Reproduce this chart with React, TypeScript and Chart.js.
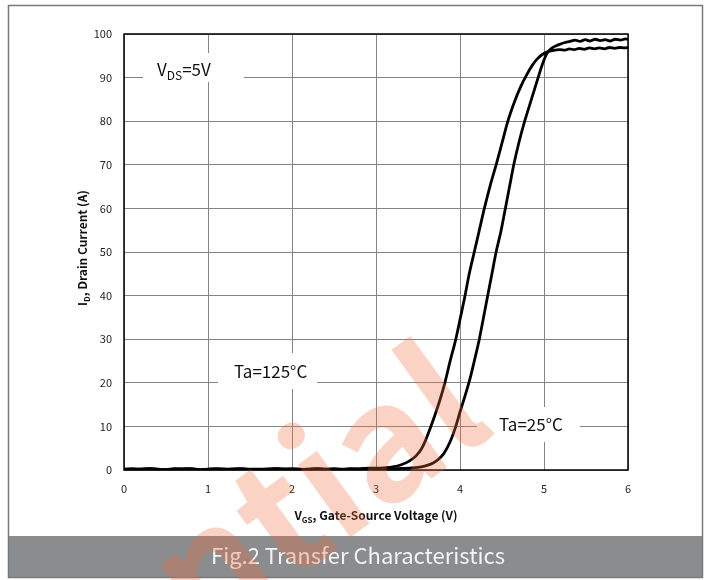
import React, { useEffect, useRef } from "react";
import { Chart, registerables } from "chart.js";

Chart.register(...registerables);

// ---------- data ----------
const xTicks = [0, 1, 2, 3, 4, 5, 6];
const yTicks = [0, 10, 20, 30, 40, 50, 60, 70, 80, 90, 100];

// Ta = 125°C (left curve)
const vgs125 = [
  0.0, 0.1, 0.2, 0.3, 0.4, 0.5, 0.6, 0.7, 0.8, 0.9, 1.0, 1.1, 1.2, 1.3, 1.4, 1.5, 1.6, 1.7, 1.8, 1.9,
  2.0, 2.1, 2.2, 2.3, 2.4, 2.5, 2.6, 2.7, 2.8, 2.9, 3.0, 3.1, 3.2, 3.3, 3.4, 3.48, 3.54, 3.59, 3.64,
  3.7, 3.76, 3.82, 3.88, 3.95, 4.0, 4.06, 4.11, 4.17, 4.23, 4.29, 4.36, 4.43, 4.5, 4.57, 4.65, 4.72,
  4.79, 4.86, 4.92, 4.98, 5.04, 5.1, 5.19, 5.25, 5.3, 5.36, 5.42, 5.48, 5.54, 5.6, 5.66, 5.72, 5.78,
  5.84, 5.9, 5.96, 6.0,
];
const id125 = [
  0.2, 0.3, 0.1, 0.3, 0.2, 0.1, 0.3, 0.2, 0.3, 0.1, 0.2, 0.3, 0.2, 0.1, 0.3, 0.2, 0.2, 0.1, 0.3, 0.2,
  0.3, 0.2, 0.1, 0.3, 0.2, 0.3, 0.2, 0.3, 0.2, 0.4, 0.4, 0.5, 0.7, 1.2, 2.1, 3.3, 4.8, 6.8, 9.3,
  12.5, 16.0, 20.0, 24.8, 30.0, 34.5, 40.0, 45.0, 50.0, 55.0, 60.0, 65.3, 70.0, 75.0, 80.0, 84.5, 87.8,
  90.5, 92.8, 94.3, 95.3, 95.9, 96.2, 96.4, 96.3, 96.6, 96.4, 96.7, 96.5, 96.8, 96.6, 96.8, 96.6, 96.9,
  96.7, 96.9, 96.8, 96.9,
];

// Ta = 25°C (right curve)
const vgs25 = [
  0.0, 0.15, 0.3, 0.45, 0.6, 0.75, 0.9, 1.05, 1.2, 1.35, 1.5, 1.65, 1.8, 1.95, 2.1, 2.25, 2.4, 2.55,
  2.7, 2.85, 3.0, 3.1, 3.2, 3.3, 3.4, 3.5, 3.6, 3.68, 3.74, 3.8, 3.85, 3.9, 3.95, 4.0, 4.06, 4.12,
  4.18, 4.23, 4.28, 4.33, 4.38, 4.43, 4.49, 4.54, 4.59, 4.64, 4.7, 4.77, 4.85, 4.93, 4.98, 5.03, 5.09,
  5.17, 5.24, 5.31, 5.37, 5.43, 5.49, 5.55, 5.61, 5.67, 5.73, 5.79, 5.85, 5.91, 5.97, 6.0,
];
const id25 = [
  0.1, 0.2, 0.3, 0.1, 0.2, 0.3, 0.1, 0.2, 0.2, 0.3, 0.1, 0.2, 0.3, 0.2, 0.1, 0.3, 0.2, 0.1, 0.2,
  0.3, 0.2, 0.2, 0.3, 0.35, 0.45, 0.6, 1.0, 1.6, 2.4, 3.6, 5.2, 7.3, 10.0, 13.3, 17.0, 21.0,
  25.8, 30.0, 35.0, 40.0, 45.0, 50.0, 55.0, 60.0, 65.0, 70.0, 75.0, 80.0, 85.0, 90.0, 93.0, 95.4, 96.7,
  97.5, 98.0, 98.3, 98.6, 98.3, 98.7, 98.4, 98.8, 98.5, 98.7, 98.4, 98.8, 98.6, 98.9, 98.7,
];

const seriesLabels = ["Ta=125°C", "Ta=25°C"];
const figTitle = "Fig.2 Transfer Characteristics";
const watermarkText = "Confidential";

const FONT = '"Noto Sans CJK SC", "Noto Sans", sans-serif';

type Part = { t: string; sub?: boolean };

function richWidth(ctx: CanvasRenderingContext2D, parts: Part[], size: number, weight: string) {
  let w = 0;
  for (const p of parts) {
    ctx.font = `${weight} ${p.sub ? Math.round(size * 0.68) : size}px ${FONT}`;
    w += ctx.measureText(p.t).width;
  }
  return w;
}

function drawRich(
  ctx: CanvasRenderingContext2D,
  parts: Part[],
  x: number,
  y: number,
  size: number,
  weight: string,
  color: string
) {
  ctx.fillStyle = color;
  ctx.textAlign = "left";
  ctx.textBaseline = "alphabetic";
  let cx = x;
  for (const p of parts) {
    const s = p.sub ? Math.round(size * 0.68) : size;
    ctx.font = `${weight} ${s}px ${FONT}`;
    ctx.fillText(p.t, cx, p.sub ? y + size * 0.22 : y);
    cx += ctx.measureText(p.t).width;
  }
}

const decorPlugin = {
  id: "decor",
  beforeDraw(chart: any) {
    const ctx = chart.ctx as CanvasRenderingContext2D;
    ctx.save();
    ctx.fillStyle = "#ffffff";
    ctx.fillRect(0, 0, chart.width, chart.height);
    ctx.restore();
  },
  beforeDatasetsDraw(chart: any) {
    const ctx = chart.ctx as CanvasRenderingContext2D;
    ctx.save();
    // annotation boxes
    ctx.fillStyle = "#ffffff";
    ctx.fillRect(143, 53, 101, 29);
    ctx.fillRect(218, 353, 99, 36);
    ctx.fillRect(477, 407, 103, 35);
    drawRich(ctx, [{ t: "V" }, { t: "DS", sub: true }, { t: "=5V" }], 157, 76, 17, "normal", "#111");
    drawRich(ctx, [{ t: seriesLabels[0] }], 234, 378, 17, "normal", "#111");
    drawRich(ctx, [{ t: seriesLabels[1] }], 499, 431, 17, "normal", "#111");

    // x axis title
    const xt: Part[] = [{ t: "V" }, { t: "GS", sub: true }, { t: ", Gate-Source Voltage (V)" }];
    const xw = richWidth(ctx, xt, 12, "bold");
    drawRich(ctx, xt, 376 - xw / 2, 520, 12, "bold", "#111");

    // y axis title
    const yt: Part[] = [{ t: "I" }, { t: "D", sub: true }, { t: ", Drain Current (A)" }];
    const yw = richWidth(ctx, yt, 12, "bold");
    ctx.translate(87, 248);
    ctx.rotate(-Math.PI / 2);
    drawRich(ctx, yt, -yw / 2, 0, 12, "bold", "#111");
    ctx.restore();
  },
  afterDatasetsDraw(chart: any) {
    const ctx = chart.ctx as CanvasRenderingContext2D;
    const a = chart.chartArea;
    ctx.save();
    ctx.strokeStyle = "#000";
    ctx.lineWidth = 1.5;
    ctx.strokeRect(a.left, a.top, a.right - a.left, a.bottom - a.top);
    ctx.restore();
  },
  afterDraw(chart: any) {
    const ctx = chart.ctx as CanvasRenderingContext2D;
    ctx.save();
    // title bar
    ctx.fillStyle = "#8b8c8e";
    ctx.fillRect(9, 536, 693, 41);
    ctx.fillStyle = "#f4f4f4";
    ctx.font = `normal 22px ${FONT}`;
    ctx.textAlign = "center";
    ctx.textBaseline = "middle";
    ctx.fillText(figTitle, 358, 556);
    // outer frame
    ctx.strokeStyle = "#7a7a7a";
    ctx.lineWidth = 1.5;
    ctx.strokeRect(8.5, 5.5, 694, 572);
    // watermark
    ctx.translate(497, 431);
    ctx.rotate((-36 * Math.PI) / 180);
    ctx.fillStyle = "rgba(242, 110, 60, 0.3)";
    ctx.font = `bold 160px ${FONT}`;
    ctx.textAlign = "right";
    ctx.textBaseline = "alphabetic";
    ctx.fillText(watermarkText, 0, 0);
    ctx.restore();
  },
};

export default function App() {
  const ref = useRef<HTMLCanvasElement | null>(null);
  useEffect(() => {
    if (!ref.current) return;
    const chart = new Chart(ref.current, {
      type: "line",
      data: {
        datasets: [
          {
            label: seriesLabels[0],
            data: vgs125.map((x, i) => ({ x, y: id125[i] })),
            borderColor: "#000",
            borderWidth: 2.8,
            pointRadius: 0,
            cubicInterpolationMode: "monotone",
            fill: false,
          },
          {
            label: seriesLabels[1],
            data: vgs25.map((x, i) => ({ x, y: id25[i] })),
            borderColor: "#000",
            borderWidth: 2.8,
            pointRadius: 0,
            cubicInterpolationMode: "monotone",
            fill: false,
          },
        ],
      },
      options: {
        responsive: false,
        animation: false,
        devicePixelRatio: 1,
        layout: { padding: { left: 0, top: 34, right: 83, bottom: 0 } },
        plugins: { legend: { display: false }, tooltip: { enabled: false }, title: { display: false } },
        scales: {
          x: {
            type: "linear",
            min: xTicks[0],
            max: xTicks[xTicks.length - 1],
            afterFit: (s: any) => {
              s.height = 110;
            },
            afterBuildTicks: (s: any) => {
              s.ticks = xTicks.map((v) => ({ value: v }));
            },
            grid: { color: "#858585", lineWidth: 1, drawTicks: false },
            border: { display: false },
            ticks: { padding: 12, color: "#222", font: { family: FONT, size: 11 } },
          },
          y: {
            type: "linear",
            min: yTicks[0],
            max: yTicks[yTicks.length - 1],
            afterFit: (s: any) => {
              s.width = 124;
            },
            afterBuildTicks: (s: any) => {
              s.ticks = yTicks.map((v) => ({ value: v }));
            },
            grid: { color: "#858585", lineWidth: 1, drawTicks: false },
            border: { display: false },
            ticks: { padding: 12, color: "#222", font: { family: FONT, size: 11 } },
          },
        },
      },
      plugins: [decorPlugin],
    } as any);
    return () => chart.destroy();
  }, []);
  return (
    <div style={{ position: "absolute", left: 0, top: 0, width: 711, height: 580 }}>
      <canvas ref={ref} width={711} height={580} style={{ display: "block" }} />
    </div>
  );
}
